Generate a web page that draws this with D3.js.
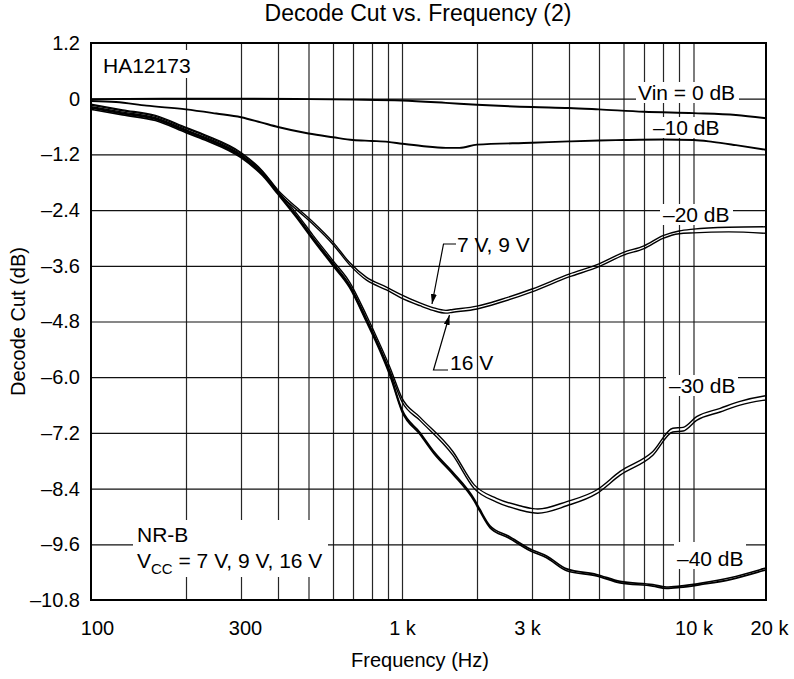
<!DOCTYPE html>
<html>
<head>
<meta charset="utf-8">
<script src="https://cdn.jsdelivr.net/npm/d3@7"></script>
<style>
  html, body { margin: 0; padding: 0; background: #fff; }
  svg { display: block; font-family: "Liberation Sans", Arial, Helvetica, sans-serif; }
  .tick text { font-size: 20px; fill: #000; }
  .lbl { font-size: 21px; fill: #000; }
</style>
</head>
<body>
<div id="chart"></div>
<script>
// ---------- Data ----------
const X_TICKS = [100, 300, 1000, 3000, 10000, 20000];
const X_TICK_LABELS = ["100", "300", "1 k", "3 k", "10 k", "20 k"];
const Y_TICKS = [1.2, 0, -1.2, -2.4, -3.6, -4.8, -6.0, -7.2, -8.4, -9.6, -10.8];
const Y_TICK_LABELS = ["1.2", "0", "\u20131.2", "\u20132.4", "\u20133.6", "\u20134.8", "\u20136.0", "\u20137.2", "\u20138.4", "\u20139.6", "\u201310.8"];
const GRID_FREQ = [100, 200, 300, 400, 500, 600, 700, 800, 900, 1000,
                   2000, 3000, 4000, 5000, 6000, 7000, 8000, 9000, 10000, 20000];

// Vin = 0 dB
const vin0Freq = [100, 200, 300, 500, 700, 1000, 1500, 2000, 3000, 4000, 5000, 7000, 10000, 15000, 20000];
const vin0Db   = [-0.01, 0.0, 0.0, -0.01, -0.02, -0.04, -0.09, -0.13, -0.18, -0.2, -0.23, -0.28, -0.31, -0.35, -0.42];

// Vin = -10 dB
const vin10Freq = [100, 120, 150, 200, 250, 300, 350, 400, 500, 600, 700, 800, 900, 1000, 1200, 1500, 1700,
                   2000, 3000, 4000, 5000, 6000, 8000, 10000, 12000, 15000, 20000];
const vin10Db   = [-0.05, -0.07, -0.15, -0.23, -0.32, -0.40, -0.51, -0.61, -0.75, -0.83, -0.89, -0.91, -0.93, -0.97, -1.02, -1.06, -1.06,
                   -0.99, -0.95, -0.92, -0.90, -0.89, -0.88, -0.89, -0.93, -1.00, -1.10];

// Vin = -20 dB
const vin20Freq = [100, 126, 160, 200, 230, 300, 355, 400, 458, 518, 600, 682, 770, 890, 985, 1180, 1330, 1500, 1600,
                   2000, 2400, 3000, 4000, 5000, 6000, 7000, 8000, 9000, 10000, 14000, 20000];
const vin20Db_7V9V = [-0.12, -0.24, -0.36, -0.62, -0.78, -1.16, -1.56, -1.97, -2.34, -2.66, -3.09, -3.53, -3.85, -4.06, -4.21, -4.40, -4.50, -4.56, -4.54,
                      -4.47, -4.32, -4.10, -3.78, -3.56, -3.31, -3.17, -2.95, -2.85, -2.81, -2.77, -2.76];
const vin20Db_16V  = [-0.17, -0.29, -0.41, -0.67, -0.83, -1.21, -1.61, -2.02, -2.39, -2.71, -3.14, -3.58, -3.91, -4.12, -4.28, -4.46, -4.56, -4.62, -4.60,
                      -4.53, -4.38, -4.16, -3.84, -3.62, -3.37, -3.23, -3.01, -2.91, -2.89, -2.87, -2.90];

// Vin = -30 dB
const vin30Freq = [100, 126, 160, 200, 230, 300, 355, 400, 458, 518, 600, 682, 770, 849, 915, 1000, 1180, 1600, 1950, 2310, 2740, 3140,
                   3930, 4910, 5850, 7450, 8600, 9270, 10300, 12900, 15600, 19400, 20000];
const vin30Db_7V9V = [-0.14, -0.26, -0.38, -0.64, -0.80, -1.18, -1.58, -1.99, -2.47, -2.95, -3.49, -3.95, -4.67, -5.30, -5.80, -6.45, -6.86, -7.60, -8.32, -8.61, -8.77, -8.84,
                      -8.68, -8.43, -8.03, -7.60, -7.10, -7.08, -6.85, -6.67, -6.52, -6.41, -6.40];
const vin30Db_16V  = [-0.19, -0.31, -0.43, -0.69, -0.85, -1.23, -1.63, -2.04, -2.52, -3.00, -3.54, -4.01, -4.74, -5.37, -5.88, -6.53, -6.93, -7.68, -8.40, -8.69, -8.86, -8.93,
                      -8.77, -8.51, -8.11, -7.68, -7.18, -7.16, -6.93, -6.75, -6.60, -6.50, -6.49];

// Vin = -40 dB
const vin40Freq = [100, 126, 160, 200, 230, 300, 355, 400, 458, 518, 600, 682, 770, 849, 915, 1000, 1180, 1350, 1600, 1950, 2040, 2200,
                   2520, 2960, 3360, 3930, 4910, 5850, 7450, 8200, 9040, 10950, 14200, 19400, 20000];
const vin40Db_7V9V = [-0.20, -0.32, -0.44, -0.70, -0.86, -1.24, -1.63, -2.03, -2.53, -3.02, -3.57, -4.04, -4.78, -5.40, -5.94, -6.70, -7.19, -7.62, -8.05, -8.63, -8.84, -9.20,
                      -9.42, -9.70, -9.85, -10.13, -10.25, -10.40, -10.47, -10.52, -10.50, -10.43, -10.32, -10.13, -10.11];
const vin40Db_16V  = [-0.23, -0.35, -0.47, -0.73, -0.89, -1.27, -1.66, -2.06, -2.56, -3.05, -3.60, -4.07, -4.81, -5.44, -5.98, -6.74, -7.23, -7.66, -8.09, -8.67, -8.88, -9.24,
                      -9.46, -9.74, -9.89, -10.17, -10.28, -10.43, -10.50, -10.55, -10.53, -10.46, -10.36, -10.17, -10.15];

const SERIES = [
  { freq: vin0Freq,  db: vin0Db,        w: 1.9 },
  { freq: vin10Freq, db: vin10Db,       w: 1.9 },
  { freq: vin20Freq, db: vin20Db_7V9V,  w: 1.4 },
  { freq: vin20Freq, db: vin20Db_16V,   w: 1.4 },
  { freq: vin30Freq, db: vin30Db_7V9V,  w: 1.4 },
  { freq: vin30Freq, db: vin30Db_16V,   w: 1.4 },
  { freq: vin40Freq, db: vin40Db_7V9V,  w: 1.7 },
  { freq: vin40Freq, db: vin40Db_16V,   w: 1.7 }
];

// ---------- Layout ----------
const W = 794, H = 679;
const PLOT = { left: 91, right: 766, top: 43, bottom: 600 };
// the printed grid is not an exact log grid: pin every grid line where it sits
const GRID_X = [91, 186, 241, 278, 308.5, 333, 353, 372, 388, 402,
                477, 532, 569, 599, 623.5, 644, 663, 679, 693.5, 766];
// small nudges of the frequency labels, as printed
const X_LABEL_NUDGE = { 100: 6, 300: 4, 3000: -5, 20000: 3 };

const x = d3.scaleLog().domain(GRID_FREQ).range(GRID_X);
const y = d3.scaleLinear().domain([-10.8, 1.2]).range([PLOT.bottom, PLOT.top]);

const svg = d3.select("#chart").append("svg").attr("width", W).attr("height", H);

svg.append("defs").append("marker")
    .attr("id", "arrow")
    .attr("viewBox", "0 0 10 6")
    .attr("refX", 10).attr("refY", 3)
    .attr("markerWidth", 10).attr("markerHeight", 6)
    .attr("markerUnits", "userSpaceOnUse")
    .attr("orient", "auto")
  .append("path").attr("d", "M0,0L10,3L0,6Z").attr("fill", "#000");

// title
svg.append("text")
    .attr("x", 418).attr("y", 21)
    .attr("text-anchor", "middle")
    .style("font-size", "23px")
    .text("Decode Cut vs. Frequency (2)");

// ---------- grid ----------
const plotH = PLOT.bottom - PLOT.top, plotW = PLOT.right - PLOT.left;

svg.append("g")
    .attr("transform", `translate(0,${PLOT.bottom})`)
    .call(d3.axisBottom(x).tickValues(GRID_FREQ.slice(1, -1)).tickSize(-plotH).tickFormat(""))
    .call(g => g.select(".domain").remove())
    .selectAll("line").attr("stroke", "#262626").attr("stroke-width", 1.2);

svg.append("g")
    .attr("transform", `translate(${PLOT.left},0)`)
    .call(d3.axisLeft(y).tickValues(Y_TICKS.slice(1, -1)).tickSize(-plotW).tickFormat(""))
    .call(g => g.select(".domain").remove())
    .selectAll("line").attr("stroke", "#111").attr("stroke-width", 1.2);

// ---------- axes labels ----------
svg.append("g")
    .attr("transform", `translate(${PLOT.left},0)`)
    .call(d3.axisLeft(y).tickValues(Y_TICKS).tickFormat((d, i) => Y_TICK_LABELS[i]).tickSize(0).tickPadding(11))
    .call(g => g.select(".domain").remove())
    .selectAll("text").attr("font-family", null);

svg.append("g")
    .attr("transform", `translate(0,${PLOT.bottom})`)
    .call(d3.axisBottom(x).tickValues(X_TICKS).tickFormat((d, i) => X_TICK_LABELS[i]).tickSize(0).tickPadding(21))
    .call(g => g.select(".domain").remove())
    .selectAll("text")
      .attr("font-family", null)
      .attr("dx", d => X_LABEL_NUDGE[d] || 0);

svg.selectAll(".tick text").attr("font-size", null);

svg.append("text")
    .attr("transform", `translate(25,${(PLOT.top + PLOT.bottom) / 2}) rotate(-90)`)
    .attr("text-anchor", "middle")
    .style("font-size", "20px")
    .text("Decode Cut (dB)");

svg.append("text")
    .attr("x", 420).attr("y", 667)
    .attr("text-anchor", "middle")
    .style("font-size", "20px")
    .text("Frequency (Hz)");

// ---------- label knock-out boxes ----------
const boxes = [
  [99, 50, 95, 28],     // HA12173
  [636, 82, 103, 21],   // Vin = 0 dB
  [650, 117, 73, 21],   // -10 dB
  [660, 204, 73, 21],   // -20 dB
  [666, 375, 72, 21],   // -30 dB
  [674, 542, 72, 27],   // -40 dB
  [133, 520, 195, 57]   // NR-B
];
svg.append("g").selectAll("rect")
  .data(boxes).join("rect")
    .attr("x", d => d[0]).attr("y", d => d[1])
    .attr("width", d => d[2]).attr("height", d => d[3])
    .attr("fill", "#fff");

// ---------- curves ----------
const line = d3.line()
    .x(d => x(d[0]))
    .y(d => y(d[1]))
    .curve(d3.curveMonotoneX);

svg.append("g").selectAll("path")
  .data(SERIES).join("path")
    .attr("d", s => line(s.freq.map((f, i) => [f, s.db[i]])))
    .attr("fill", "none")
    .attr("stroke", "#000")
    .attr("stroke-width", s => s.w)
    .attr("stroke-linejoin", "round");

// ---------- annotations ----------
const notes = svg.append("g");
notes.append("text").attr("class", "lbl").attr("x", 103).attr("y", 73).text("HA12173");
notes.append("text").attr("class", "lbl").attr("x", 638).attr("y", 100).text("Vin = 0 dB");
notes.append("text").attr("class", "lbl").attr("x", 653).attr("y", 135).text("\u201310 dB");
notes.append("text").attr("class", "lbl").attr("x", 663).attr("y", 222).text("\u201320 dB");
notes.append("text").attr("class", "lbl").attr("x", 669).attr("y", 393).text("\u201330 dB");
notes.append("text").attr("class", "lbl").attr("x", 677).attr("y", 566).text("\u201340 dB");
notes.append("text").attr("class", "lbl").attr("x", 457).attr("y", 252).text("7 V, 9 V");
notes.append("text").attr("class", "lbl").attr("x", 450).attr("y", 370).text("16 V");
notes.append("text").attr("class", "lbl").attr("x", 137).attr("y", 542).text("NR-B");

const vcc = notes.append("text").attr("class", "lbl").attr("x", 137).attr("y", 568);
vcc.append("tspan").text("V");
vcc.append("tspan").attr("dy", 6).style("font-size", "15px").text("CC");
vcc.append("tspan").attr("dy", -6).text(" = 7 V, 9 V, 16 V");

// leaders with arrows
svg.append("path")
    .attr("d", "M456,244H443.5L432,304")
    .attr("fill", "none").attr("stroke", "#000").attr("stroke-width", 1.2)
    .attr("marker-end", "url(#arrow)");
svg.append("path")
    .attr("d", "M448,370H433.5L449.5,315")
    .attr("fill", "none").attr("stroke", "#000").attr("stroke-width", 1.2)
    .attr("marker-end", "url(#arrow)");

// ---------- frame ----------
svg.append("rect")
    .attr("x", PLOT.left).attr("y", PLOT.top)
    .attr("width", plotW).attr("height", plotH)
    .attr("fill", "none").attr("stroke", "#000").attr("stroke-width", 2);
</script>
</body>
</html>
